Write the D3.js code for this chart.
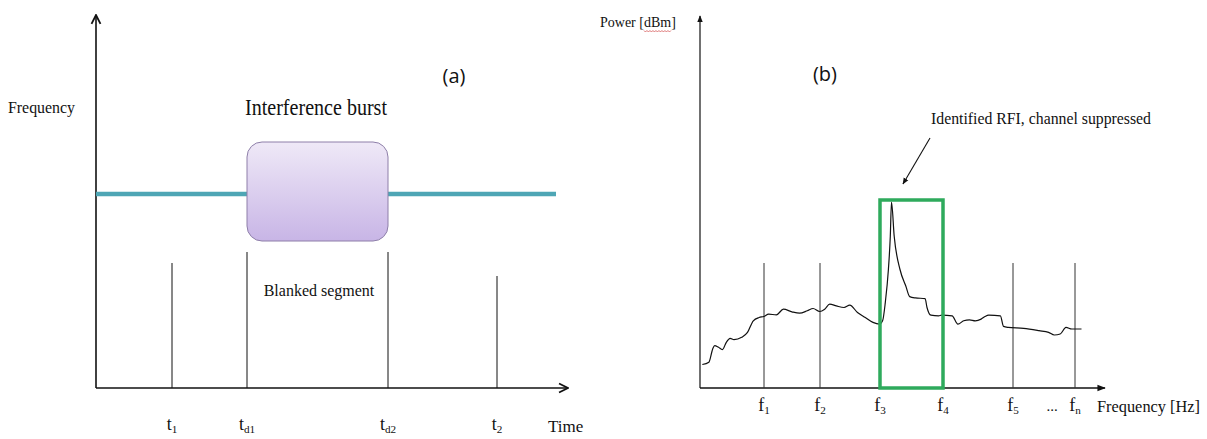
<!DOCTYPE html>
<html>
<head>
<meta charset="utf-8">
<script src="https://cdn.jsdelivr.net/npm/d3@7"></script>
<style>
  body { margin: 0; background: #fff; }
  .serif { font-family: "Liberation Serif", "DejaVu Serif", serif; fill: #111; }
  .sans { font-family: "Open Sans", "Noto Sans", sans-serif; fill: #111; }
</style>
</head>
<body>
<div id="chart"></div>
<script>
// ---- panel (a): time markers (offset along time axis) ----
var timeMarkers = [
  { name: "t", sub: "1", t: 76, h: 125 },
  { name: "t", sub: "d1", t: 151, h: 136 },
  { name: "t", sub: "d2", t: 292, h: 136 },
  { name: "t", sub: "2", t: 401, h: 112 }
];
var carrierFreq = 194;          // height of the narrowband carrier
var burstTime = [151, 292];     // interference burst start/end
var burstFreq = [147, 246];     // burst low/high frequency

// ---- panel (b): spectrum ----
var freqMarkers = [
  { name: "f", sub: "1", f: 64 },
  { name: "f", sub: "2", f: 120 },
  { name: "f", sub: "3", f: 180 },
  { name: "f", sub: "4", f: 243 },
  { name: "f", sub: "5", f: 313 },
  { name: "f", sub: "n", f: 375 }
];
var markerHeight = 125;
var suppressed = [180, 243];    // suppressed channel f3..f4
var suppressedTop = 188;

var specFreq = [2.3, 8.9, 12.7, 14.7, 18.5, 22.4, 26.3, 30.1, 34.0, 41.7, 47.5, 53.3, 59.1, 63.7,
  68.7, 76.4, 83.4, 91.9, 99.6, 107.3, 113.1, 119.7, 124.7, 129.7, 136.3, 144.0, 149.8, 157.5,
  165.3, 173.0, 179.5, 182.6, 185.3, 188.4, 190.3, 191.5, 194.2, 200.0, 205.8, 209.7, 215.4,
  225.1, 227.0, 230.9, 238.6, 241.7, 252.1, 257.9, 263.7, 269.5, 275.3, 281.1, 285.0, 288.8,
  300.4, 303.5, 308.1, 323.6, 339.0, 348.6, 354.4, 360.2, 366.0, 371.8, 381.5];
var specPower = [23.5, 25.8, 39.1, 42.4, 40.7, 38.4, 45.7, 49.7, 48.3, 50.7, 55.6, 67.2, 70.5, 71.5,
  73.8, 73.2, 78.8, 76.2, 74.8, 77.2, 79.5, 76.5, 78.8, 83.8, 82.1, 80.5, 82.8, 75.5,
  70.5, 65.6, 63.9, 67.2, 85.4, 118.5, 151.7, 186, 151.7, 118.5, 102, 91.4, 90.1,
  89.4, 80.5, 72.8, 72.2, 72.8, 72.2, 63.9, 67.2, 68.2, 67.2, 68.9, 71.5, 72.8,
  72.2, 61.6, 60.6, 59.6, 57.3, 55.6, 53.0, 54.0, 60.6, 59.0, 59.0];

var width = 1207, height = 439;

var svg = d3.select("#chart").append("svg")
  .attr("width", width).attr("height", height);

var defs = svg.append("defs");
defs.append("marker").attr("id", "arrow")
  .attr("viewBox", "0 0 10 10").attr("refX", 9).attr("refY", 5)
  .attr("markerWidth", 7).attr("markerHeight", 7).attr("orient", "auto")
  .append("path").attr("d", "M1,1 L9,5 L1,9").attr("fill", "none")
  .attr("stroke", "#111").attr("stroke-width", 1.6);
defs.append("marker").attr("id", "arrowFill")
  .attr("viewBox", "0 0 10 10").attr("refX", 9).attr("refY", 5)
  .attr("markerWidth", 6).attr("markerHeight", 6).attr("orient", "auto")
  .append("path").attr("d", "M0,1 L10,5 L0,9 Z").attr("fill", "#111");

var grad = defs.append("linearGradient").attr("id", "burstFill")
  .attr("x1", 0).attr("y1", 0).attr("x2", 0).attr("y2", 1);
grad.append("stop").attr("offset", "0%").attr("stop-color", "#efe9f7");
grad.append("stop").attr("offset", "100%").attr("stop-color", "#c8b5e6");

// subscript label helper
function subLabel(g, x, y, name, sub, size) {
  var t = g.append("text").attr("class", "serif")
    .attr("x", x).attr("y", y).attr("text-anchor", "middle")
    .style("font-size", size + "px");
  t.append("tspan").text(name);
  t.append("tspan").attr("dy", 3).style("font-size", (size * 0.62) + "px").text(sub);
  return t;
}

// ================= panel (a) =================
var a = svg.append("g");
var tScale = d3.scaleLinear().domain([0, 472]).range([96, 568]);
var fScale = d3.scaleLinear().domain([0, 373]).range([388, 15]);

// axes
a.append("line").attr("x1", tScale(0)).attr("y1", fScale(0))
  .attr("x2", tScale(0)).attr("y2", fScale(373))
  .attr("stroke", "#111").attr("stroke-width", 1.6).attr("marker-end", "url(#arrow)");
a.append("line").attr("x1", tScale(0)).attr("y1", fScale(0))
  .attr("x2", tScale(472)).attr("y2", fScale(0))
  .attr("stroke", "#111").attr("stroke-width", 1.6).attr("marker-end", "url(#arrow)");

// carrier line
a.append("line").attr("x1", tScale(0)).attr("x2", tScale(460))
  .attr("y1", fScale(carrierFreq)).attr("y2", fScale(carrierFreq))
  .attr("stroke", "#4ea6b5").attr("stroke-width", 4.5);

// burst
a.append("rect")
  .attr("x", tScale(burstTime[0])).attr("y", fScale(burstFreq[1]))
  .attr("width", tScale(burstTime[1]) - tScale(burstTime[0]))
  .attr("height", fScale(burstFreq[0]) - fScale(burstFreq[1]))
  .attr("rx", 15).attr("ry", 15)
  .attr("fill", "url(#burstFill)").attr("stroke", "#8e7fa9").attr("stroke-width", 1);

// time markers
a.selectAll(".tm").data(timeMarkers).enter().append("line")
  .attr("x1", d => tScale(d.t)).attr("x2", d => tScale(d.t))
  .attr("y1", fScale(0)).attr("y2", d => fScale(d.h))
  .attr("stroke", "#111").attr("stroke-width", 1);
timeMarkers.forEach(d => subLabel(a, tScale(d.t), 430, d.name, d.sub, 18));

a.append("text").attr("class", "serif").attr("x", 548).attr("y", 432)
  .style("font-size", "17px").text("Time");
a.append("text").attr("class", "serif").attr("x", 8).attr("y", 113)
  .style("font-size", "16px").attr("textLength", 67).attr("lengthAdjust", "spacingAndGlyphs")
  .text("Frequency");
a.append("text").attr("class", "serif").attr("x", 245).attr("y", 115)
  .style("font-size", "24px").attr("textLength", 142).attr("lengthAdjust", "spacingAndGlyphs")
  .text("Interference burst");
a.append("text").attr("class", "serif").attr("x", 319).attr("y", 296)
  .attr("text-anchor", "middle").style("font-size", "16px").text("Blanked segment");
a.append("text").attr("class", "sans").attr("x", 454).attr("y", 83)
  .attr("text-anchor", "middle").style("font-size", "20px").text("(a)");

// ================= panel (b) =================
var b = svg.append("g");
var xScale = d3.scaleLinear().domain([0, 405]).range([700, 1105]);
var yScale = d3.scaleLinear().domain([0, 380]).range([388, 8]);

b.append("line").attr("x1", xScale(0)).attr("y1", yScale(0))
  .attr("x2", xScale(0)).attr("y2", yScale(372))
  .attr("stroke", "#111").attr("stroke-width", 1.2).attr("marker-end", "url(#arrowFill)");
b.append("line").attr("x1", xScale(0)).attr("y1", yScale(0))
  .attr("x2", xScale(405)).attr("y2", yScale(0))
  .attr("stroke", "#111").attr("stroke-width", 1.4).attr("marker-end", "url(#arrowFill)");

// channel markers
b.selectAll(".fm").data(freqMarkers).enter().append("line")
  .attr("x1", d => xScale(d.f)).attr("x2", d => xScale(d.f))
  .attr("y1", yScale(0)).attr("y2", yScale(markerHeight))
  .attr("stroke", "#333").attr("stroke-width", 1);

// spectrum
var spectrum = specFreq.map((f, i) => [f, specPower[i]]);
b.append("path").datum(spectrum)
  .attr("d", d3.line().x(d => xScale(d[0])).y(d => yScale(d[1])).curve(d3.curveMonotoneX))
  .attr("fill", "none").attr("stroke", "#111").attr("stroke-width", 1.2);

// suppressed channel box
b.append("rect")
  .attr("x", xScale(suppressed[0])).attr("y", yScale(suppressedTop))
  .attr("width", xScale(suppressed[1]) - xScale(suppressed[0]))
  .attr("height", yScale(0) - yScale(suppressedTop))
  .attr("fill", "none").attr("stroke", "#2eaa5c").attr("stroke-width", 3.5);

freqMarkers.forEach(d => subLabel(b, xScale(d.f), 411, d.name, d.sub, 18));
b.append("text").attr("class", "serif").attr("x", 1052).attr("y", 411)
  .attr("text-anchor", "middle").style("font-size", "15px").text("...");
b.append("text").attr("class", "serif").attr("x", 1097).attr("y", 412)
  .style("font-size", "17px").attr("textLength", 103).attr("lengthAdjust", "spacingAndGlyphs")
  .text("Frequency [Hz]");

var pw = b.append("text").attr("class", "serif").attr("x", 600).attr("y", 27)
  .style("font-size", "14px");
pw.append("tspan").text("Power [");
pw.append("tspan").attr("id", "dbm").text("dBm");
pw.append("tspan").text("]");
// red wavy underline under dBm
var dbm = document.getElementById("dbm");
var ext = dbm.getExtentOfChar(0), ext2 = dbm.getExtentOfChar(2);
var wx0 = ext.x, wx1 = ext2.x + ext2.width, wy = 31;
var wave = d3.range(wx0, wx1, 1.5).map((x, i) => [x, wy + (i % 2 ? 1 : -0.5)]);
b.append("path").attr("d", d3.line()(wave))
  .attr("fill", "none").attr("stroke", "#d04040").attr("stroke-width", 0.7);

b.append("text").attr("class", "sans").attr("x", 825).attr("y", 81)
  .attr("text-anchor", "middle").style("font-size", "20px").text("(b)");
b.append("text").attr("class", "serif").attr("x", 931).attr("y", 124)
  .style("font-size", "16px").attr("textLength", 220).attr("lengthAdjust", "spacingAndGlyphs")
  .text("Identified RFI, channel suppressed");
b.append("line").attr("x1", 930).attr("y1", 138).attr("x2", 903).attr("y2", 184)
  .attr("stroke", "#111").attr("stroke-width", 1.1).attr("marker-end", "url(#arrowFill)");
</script>
</body>
</html>
